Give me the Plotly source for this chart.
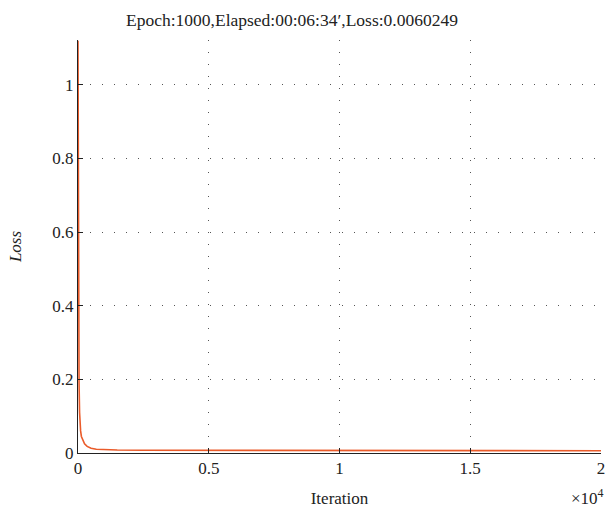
import plotly.graph_objects as go

iterations = [0, 10, 20, 30, 40, 60, 80, 100, 130, 180, 250, 350, 500, 700, 1000,
              1500, 2500, 5000, 10000, 15000, 20000]
loss = [1.12, 0.75, 0.45, 0.28, 0.19, 0.11, 0.075, 0.06, 0.045, 0.035, 0.025, 0.018,
        0.013, 0.010, 0.009, 0.008, 0.0075, 0.007, 0.0066, 0.0063, 0.0060249]

x_tickvals = [0, 5000, 10000, 15000, 20000]
x_ticktext = ["0", "0.5", "1", "1.5", "2"]
y_tickvals = [0, 0.2, 0.4, 0.6, 0.8, 1]
y_ticktext = ["0", "0.2", "0.4", "0.6", "0.8", "1"]

title_text = "Epoch:1000,Elapsed:00:06:34\u2032,Loss:0.0060249"

FONT = "Liberation Serif"
TXT = "#222222"

fig = go.Figure()
fig.add_trace(go.Scatter(x=iterations, y=loss, mode="lines",
                         line=dict(color="#EA5B2A", width=1.6), showlegend=False))

grid_common = dict(showgrid=True, gridcolor="#555555", griddash="1px,11px", gridwidth=1,
                   showline=True, linecolor=TXT, linewidth=1,
                   ticks="inside", ticklen=5, tickcolor=TXT, automargin=False,
                   zeroline=False, tickfont=dict(family=FONT, size=17, color=TXT))

fig.update_xaxes(range=[0, 20000.5], tickvals=x_tickvals, ticktext=x_ticktext,
                 title=dict(text="Iteration", font=dict(family=FONT, size=17, color=TXT), standoff=14),
                 **grid_common)
fig.update_yaxes(range=[0, 1.122], tickvals=y_tickvals, ticktext=y_ticktext,
                 title=dict(text="<i>Loss</i>", font=dict(family=FONT, size=17, color=TXT), standoff=26),
                 **grid_common)

fig.add_annotation(text="\u00d710<sup>4</sup>", xref="paper", yref="paper", x=1.01, y=-0.107,
                   xanchor="right", yanchor="middle", showarrow=False,
                   font=dict(family=FONT, size=17, color=TXT))

fig.update_layout(
    width=608, height=517,
    margin=dict(l=78, r=7, t=40, b=64),
    paper_bgcolor="white", plot_bgcolor="white",
    title=dict(text=title_text, x=292 / 608, xanchor="center", y=1 - 20 / 517, yanchor="middle",
               font=dict(family=FONT, size=17.5, color=TXT)),
)

fig.write_html("out.html", config={"displayModeBar": False},
               post_script="document.body.style.margin='0';document.body.style.overflow='hidden';")
